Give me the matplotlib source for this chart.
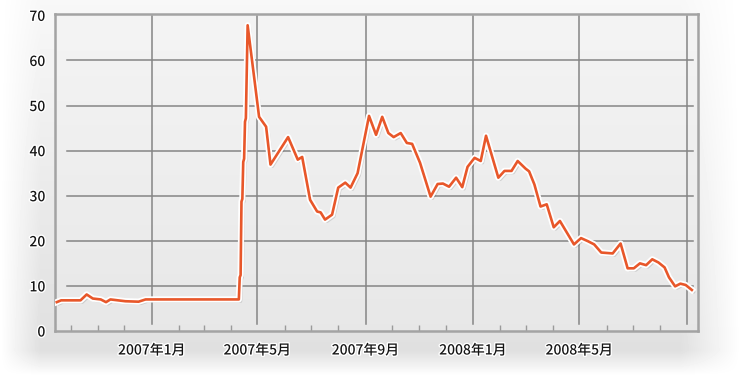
import numpy as np
import pandas as pd
import matplotlib
matplotlib.use("Agg")
import matplotlib.pyplot as plt
import matplotlib.dates as mdates
import matplotlib.patheffects as pe

# data
dates = [
    "2006-09-15", "2006-09-20", "2006-10-12", "2006-10-19", "2006-10-26",
    "2006-11-04", "2006-11-10", "2006-11-15", "2006-12-02", "2006-12-17",
    "2006-12-25", "2007-04-10", "2007-04-11", "2007-04-12", "2007-04-13",
    "2007-04-14", "2007-04-15", "2007-04-16", "2007-04-17", "2007-04-18",
    "2007-04-20", "2007-05-03", "2007-05-11", "2007-05-16", "2007-06-05",
    "2007-06-16", "2007-06-21", "2007-06-30", "2007-07-08", "2007-07-12",
    "2007-07-17", "2007-07-25", "2007-08-01", "2007-08-09", "2007-08-15",
    "2007-08-23", "2007-09-05", "2007-09-13", "2007-09-20", "2007-09-27",
    "2007-10-03", "2007-10-11", "2007-10-18", "2007-10-24", "2007-11-02",
    "2007-11-14", "2007-11-22", "2007-11-28", "2007-12-05", "2007-12-13",
    "2007-12-20", "2007-12-26", "2008-01-03", "2008-01-10", "2008-01-16",
    "2008-01-30", "2008-02-06", "2008-02-14", "2008-02-21", "2008-03-01",
    "2008-03-05", "2008-03-11", "2008-03-18", "2008-03-25", "2008-04-02",
    "2008-04-09", "2008-04-25", "2008-05-03", "2008-05-11", "2008-05-18",
    "2008-05-26", "2008-06-08", "2008-06-17", "2008-06-25", "2008-07-02",
    "2008-07-09", "2008-07-16", "2008-07-23", "2008-07-30", "2008-08-06",
    "2008-08-11", "2008-08-18", "2008-08-24", "2008-08-30", "2008-09-06",
]
values = [
    6.4, 6.8, 6.8, 8.1, 7.2,
    7.0, 6.4, 7.0, 6.6, 6.5,
    7.0, 7.0, 11.9, 12.4, 28.7,
    29.3, 37.5, 38.2, 46.4, 47.2,
    67.8, 47.5, 45.3, 36.9, 43.0,
    38.0, 38.6, 29.1, 26.5, 26.3,
    24.7, 25.8, 31.8, 32.9, 31.8,
    35.0, 47.7, 43.5, 47.5, 43.9,
    43.0, 43.9, 41.7, 41.5, 37.3,
    29.8, 32.6, 32.7, 32.0, 34.0,
    31.9, 36.4, 38.4, 37.7, 43.3,
    34.0, 35.5, 35.5, 37.7, 36.0,
    35.4, 32.5, 27.6, 28.1, 23.0,
    24.4, 19.2, 20.6, 19.9, 19.2,
    17.4, 17.2, 19.4, 13.9, 13.9,
    15.0, 14.6, 15.9, 15.2, 14.1,
    11.9, 9.9, 10.5, 10.2, 9.1,
]

major_months = ["2007-01-01", "2007-05-01", "2007-09-01",
                "2008-01-01", "2008-05-01", "2008-09-01"]
major_labels = ["2007年1月", "2007年5月", "2007年9月",
                "2008年1月", "2008年5月", ""]
y_ticks = [0, 10, 20, 30, 40, 50, 60, 70]

plt.rcParams['font.family'] = ['Noto Sans CJK JP', 'DejaVu Sans']

W, H = 750, 375
fig = plt.figure(figsize=(7.5, 3.75), dpi=100)

# background: soft grey shadow panel plus light plot area
yy, xx = np.mgrid[0:H, 0:W].astype(float)
def soft(d, s):
    return np.clip(d / s, 0, 1)
panel = soft(xx - 0, 40) * soft(W - 10 - xx, 60) * soft(H - yy, 25)
vert = 0.03 + 0.10 * (yy / H)
img = 1.0 - panel * vert
left, right, top, bottom = 55, 698, 14, 331
inside = (xx >= left) & (xx <= right) & (yy >= top) & (yy <= bottom)
plot_shade = 0.955 - 0.05 * (yy - top) / (bottom - top)
img = np.where(inside, plot_shade, img)
bg = fig.add_axes([0, 0, 1, 1], zorder=-10)
bg.imshow(img, cmap='gray', vmin=0, vmax=1, aspect='auto', interpolation='bilinear')
bg.axis('off')

ax = fig.add_axes([left / W, 1 - bottom / H, (right - left) / W, (bottom - top) / H])
ax.set_facecolor('none')

x = pd.to_datetime(dates)
ax.set_xlim(pd.Timestamp("2006-09-13"), pd.Timestamp("2008-09-13"))
ax.set_ylim(0, 70.3)

# grid lines that stop short of the frame
for v in y_ticks[1:-1]:
    ax.axhline(v, xmin=0.019, xmax=0.992, color='#858585', lw=1.1, zorder=1)
for m in major_months:
    ax.axvline(pd.Timestamp(m), ymin=0.022, ymax=0.994, color='#858585', lw=1.1, zorder=1)

ax.plot(x, values, color='#e8572a', lw=1.9, zorder=3, solid_joinstyle='round',
        path_effects=[pe.SimpleLineShadow(offset=(1.5, -1.5), shadow_color='k', alpha=0.12),
                      pe.Stroke(linewidth=4.5, foreground='white', joinstyle='round'),
                      pe.Normal()])

for s in ax.spines.values():
    s.set_color('#a3a3a3')
    s.set_linewidth(1.8)

ax.set_yticks(y_ticks)
ax.set_xticks([pd.Timestamp(m) for m in major_months])
ax.set_xticklabels(major_labels)
ax.xaxis.set_minor_locator(mdates.MonthLocator())
ax.tick_params(axis='x', which='major', length=0, pad=9, labelsize=10, labelcolor='#151515')
ax.tick_params(axis='x', which='minor', direction='in', length=4, color='#9a9a9a', width=1)
ax.tick_params(axis='y', length=0, pad=7, labelsize=10, labelcolor='#151515')
for lab in ax.get_xticklabels() + ax.get_yticklabels():
    lab.set_fontweight('medium')
    lab.set_path_effects([pe.withStroke(linewidth=2, foreground='white')])

fig.savefig('out.png', dpi=100)
